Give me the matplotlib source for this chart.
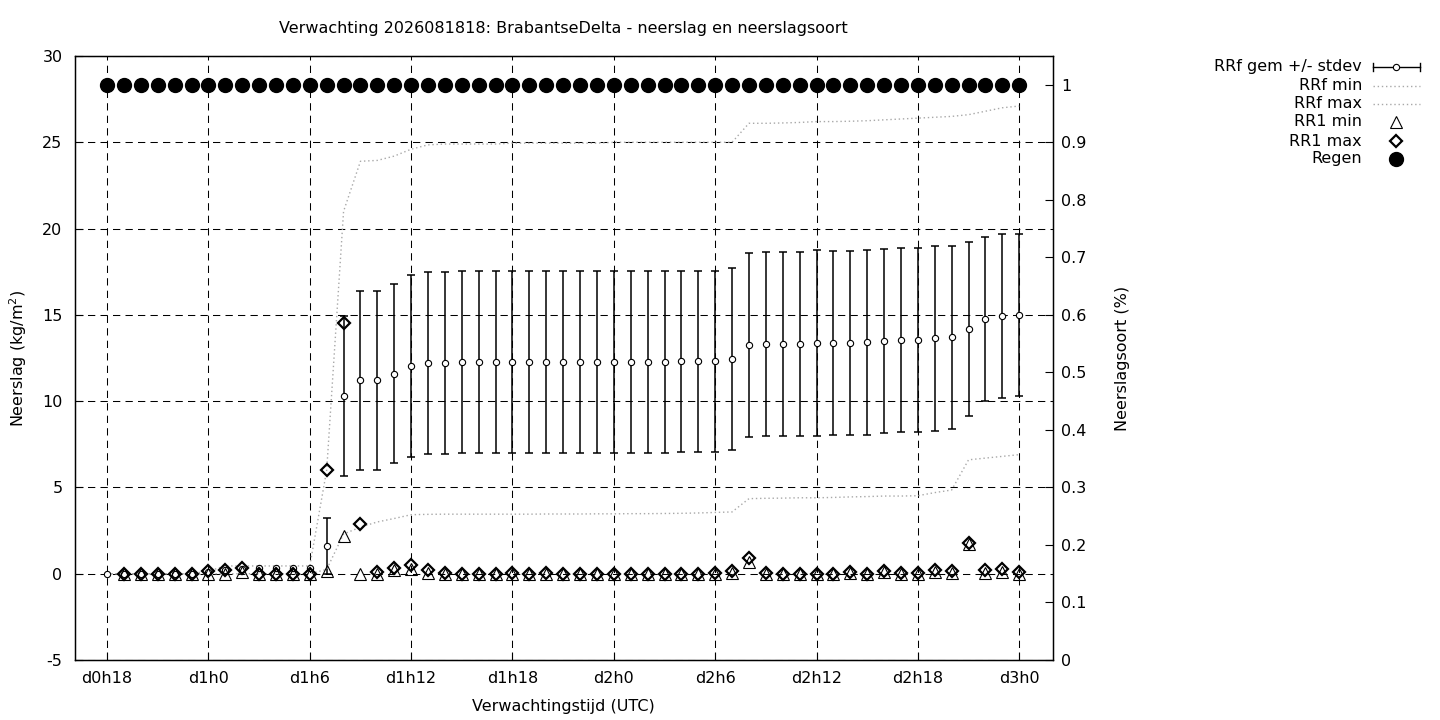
import matplotlib as mpl
mpl.use('Agg')
import matplotlib.pyplot as plt
from matplotlib.lines import Line2D
from matplotlib.ticker import FormatStrFormatter
import numpy as np

plt.rcParams['font.family'] = ['DejaVu Sans']
plt.rcParams['font.size'] = 11.5
plt.rcParams['axes.unicode_minus'] = False

# forecast hours, counted from d0h0 (d0h18 .. d3h0)
hours = list(range(18, 73))

# RRf mean and stdev (kg/m2)
rrf_mean = [0, 0, 0, 0, 0, 0, 0.1, 0.2, 0.3, 0.35, 0.35, 0.35, 0.35,
            1.6, 10.3, 11.2, 11.2, 11.6, 12.05, 12.2, 12.2,
            12.28, 12.28, 12.28, 12.28, 12.28, 12.28, 12.28, 12.28, 12.28, 12.28,
            12.28, 12.28, 12.28, 12.3, 12.3, 12.3, 12.44,
            13.25, 13.31, 13.31, 13.31, 13.37, 13.37, 13.37, 13.42, 13.48, 13.54,
            13.54, 13.65, 13.71, 14.18, 14.75, 14.93, 14.99]
rrf_sd = [0, 0, 0, 0, 0, 0, 0, 0, 0, 0, 0, 0, 0,
          1.6, 4.65, 5.19, 5.19, 5.21, 5.26, 5.27, 5.27,
          5.27, 5.27, 5.27, 5.27, 5.27, 5.27, 5.27, 5.27, 5.27, 5.27,
          5.27, 5.27, 5.27, 5.27, 5.27, 5.27, 5.26,
          5.32, 5.31, 5.31, 5.31, 5.37, 5.34, 5.34, 5.36, 5.35, 5.35,
          5.35, 5.36, 5.3, 5.04, 4.76, 4.73, 4.68]
rrf_min = [0, 0, 0, 0, 0, 0, 0, 0, 0, 0, 0, 0, 0,
           0.25, 2.3, 2.7, 3.0, 3.2, 3.42, 3.44, 3.45,
           3.45, 3.45, 3.45, 3.45, 3.45, 3.46, 3.46, 3.46, 3.47, 3.47,
           3.48, 3.48, 3.49, 3.5, 3.52, 3.55, 3.58,
           4.35, 4.37, 4.38, 4.4, 4.4, 4.42, 4.45, 4.47, 4.5, 4.5,
           4.52, 4.7, 4.85, 6.6, 6.7, 6.8, 6.9]
rrf_max = [0, 0, 0, 0, 0, 0, 0.15, 0.45, 0.45, 0.45, 0.45, 0.45, 0.45,
           6.0, 21.0, 23.9, 23.95, 24.2, 24.6, 24.85, 24.9,
           24.9, 24.9, 24.9, 24.95, 24.95, 24.95, 24.95, 24.95, 24.95, 25.0,
           25.0, 25.0, 25.0, 25.0, 25.0, 25.0, 25.0,
           26.1, 26.1, 26.12, 26.15, 26.2, 26.2, 26.22, 26.25, 26.3, 26.35,
           26.4, 26.45, 26.5, 26.6, 26.8, 27.0, 27.1]
# RR1 min / max
rr1_min = [np.nan, 0, 0, 0, 0, 0, 0, 0, 0.1, 0, 0, 0, 0,
           0.15, 2.2, 0, 0, 0.2, 0.3, 0.05, 0,
           0, 0, 0, 0, 0, 0, 0, 0, 0, 0,
           0, 0, 0, 0, 0, 0, 0.05,
           0.7, 0, 0, 0, 0, 0, 0.05, 0, 0.1, 0,
           0, 0.1, 0.05, 1.7, 0.05, 0.1, 0]
rr1_max = [np.nan, 0, 0, 0, 0, 0, 0.15, 0.2, 0.35, 0, 0, 0, 0,
           6.0, 14.5, 2.9, 0.08, 0.36, 0.5, 0.2, 0.05,
           0, 0, 0, 0.05, 0, 0.05, 0, 0, 0, 0,
           0, 0, 0, 0, 0, 0.05, 0.15,
           0.93, 0.05, 0, 0, 0, 0, 0.1, 0, 0.15, 0.05,
           0.05, 0.2, 0.15, 1.8, 0.2, 0.3, 0.1]
# precipitation type fraction (rain)
regen = [1.0] * 55

xticks = list(range(18, 73, 6))
xticklabels = ["d%dh%d" % (h // 24, h % 24) for h in xticks]

W, H = 1440, 720
fig = plt.figure(figsize=(W / 100, H / 100), dpi=100)
ax = fig.add_axes([75 / W, 1 - 660 / H, 978 / W, 604 / H])

grid_ls = (0, (7, 5))
ax.set_xlim(16.1, 74.0)
ax.set_ylim(-5, 30)
ax.set_yticks(range(-5, 31, 5))
ax.set_xticks(xticks)
ax.set_xticklabels(xticklabels)
ax.grid(True, color='black', linestyle=grid_ls, linewidth=0.75)
ax.tick_params(direction='in', length=6, width=0.8)
ax.tick_params(axis='y', pad=9)
ax.tick_params(axis='x', pad=8)
for s in ax.spines.values():
    s.set_linewidth(1)

hrs = np.array(hours)
mean = np.array(rrf_mean)
sd = np.array(rrf_sd)
m = sd > 0
ax.errorbar(hrs[m], mean[m], yerr=sd[m], fmt='none', ecolor='black',
            elinewidth=1.1, capsize=3, capthick=1.1, zorder=3)
ax.plot(hours, rrf_mean, 'o', ms=4.5, mfc='white', mec='black', mew=0.8, zorder=4)
ax.plot(hours, rrf_min, color='#a8a8a8', linestyle=(0, (1, 2)), lw=1, zorder=3)
ax.plot(hours, rrf_max, color='#a8a8a8', linestyle=(0, (1, 2)), lw=1, zorder=3)
ax.plot(hours, rr1_min, '^', ms=8.5, mfc='none', mec='black', mew=0.8, zorder=5)
ax.plot(hours, rr1_max, 'D', ms=6.3, mfc='none', mec='black', mew=1.6, zorder=6)

ax2 = ax.twinx()
ax2.set_ylim(0, 1.05)
ax2.set_yticks(np.arange(0, 1.01, 0.1))
ax2.yaxis.set_major_formatter(FormatStrFormatter('%g'))
ax2.tick_params(direction='in', length=6, width=0.8, pad=6)
ax2.plot(hours, regen, 'o', ms=10, color='black', zorder=5)

fig.text(563 / W, 1 - 28 / H, "Verwachting 2026081818: BrabantseDelta - neerslag en neerslagsoort",
         ha='center', va='center')
fig.text(18 / W, 1 - 358 / H, "Neerslag (kg/m$^2$)", rotation=90, ha='center', va='center')
fig.text(1123 / W, 1 - 358 / H, "Neerslagsoort (%)", rotation=90, ha='center', va='center')
fig.text(563 / W, 1 - 706 / H, "Verwachtingstijd (UTC)", ha='center', va='center')

# legend, gnuplot style (text right aligned, sample on the right)
def fx(px):
    return px / W

def fy(py):
    return 1 - py / H

names = ["RRf gem +/- stdev", "RRf min", "RRf max", "RR1 min", "RR1 max", "Regen"]
rows = [67, 86, 104, 122, 141, 159]
for name, r in zip(names, rows):
    fig.text(fx(1362), fy(r), name, ha='right', va='center')

x0, x1, xm = 1373, 1420, 1396
r = rows[0]
fig.add_artist(Line2D([fx(x0), fx(x1)], [fy(r), fy(r)], color='black', lw=1))
fig.add_artist(Line2D([fx(x0), fx(x0)], [fy(r - 4), fy(r + 4)], color='black', lw=1))
fig.add_artist(Line2D([fx(x1), fx(x1)], [fy(r - 4), fy(r + 4)], color='black', lw=1))
fig.add_artist(Line2D([fx(xm)], [fy(r)], marker='o', ms=4.5, mfc='white', mec='black', mew=0.8))
for r in rows[1:3]:
    fig.add_artist(Line2D([fx(x0), fx(x1)], [fy(r), fy(r)], color='#a8a8a8',
                          linestyle=(0, (1, 2)), lw=1))
fig.add_artist(Line2D([fx(xm)], [fy(rows[3])], marker='^', ms=8.5, mfc='none', mec='black', mew=0.8))
fig.add_artist(Line2D([fx(xm)], [fy(rows[4])], marker='D', ms=6.3, mfc='none', mec='black', mew=1.6))
fig.add_artist(Line2D([fx(xm)], [fy(rows[5])], marker='o', ms=10, color='black'))

fig.savefig("out.png", dpi=100)
